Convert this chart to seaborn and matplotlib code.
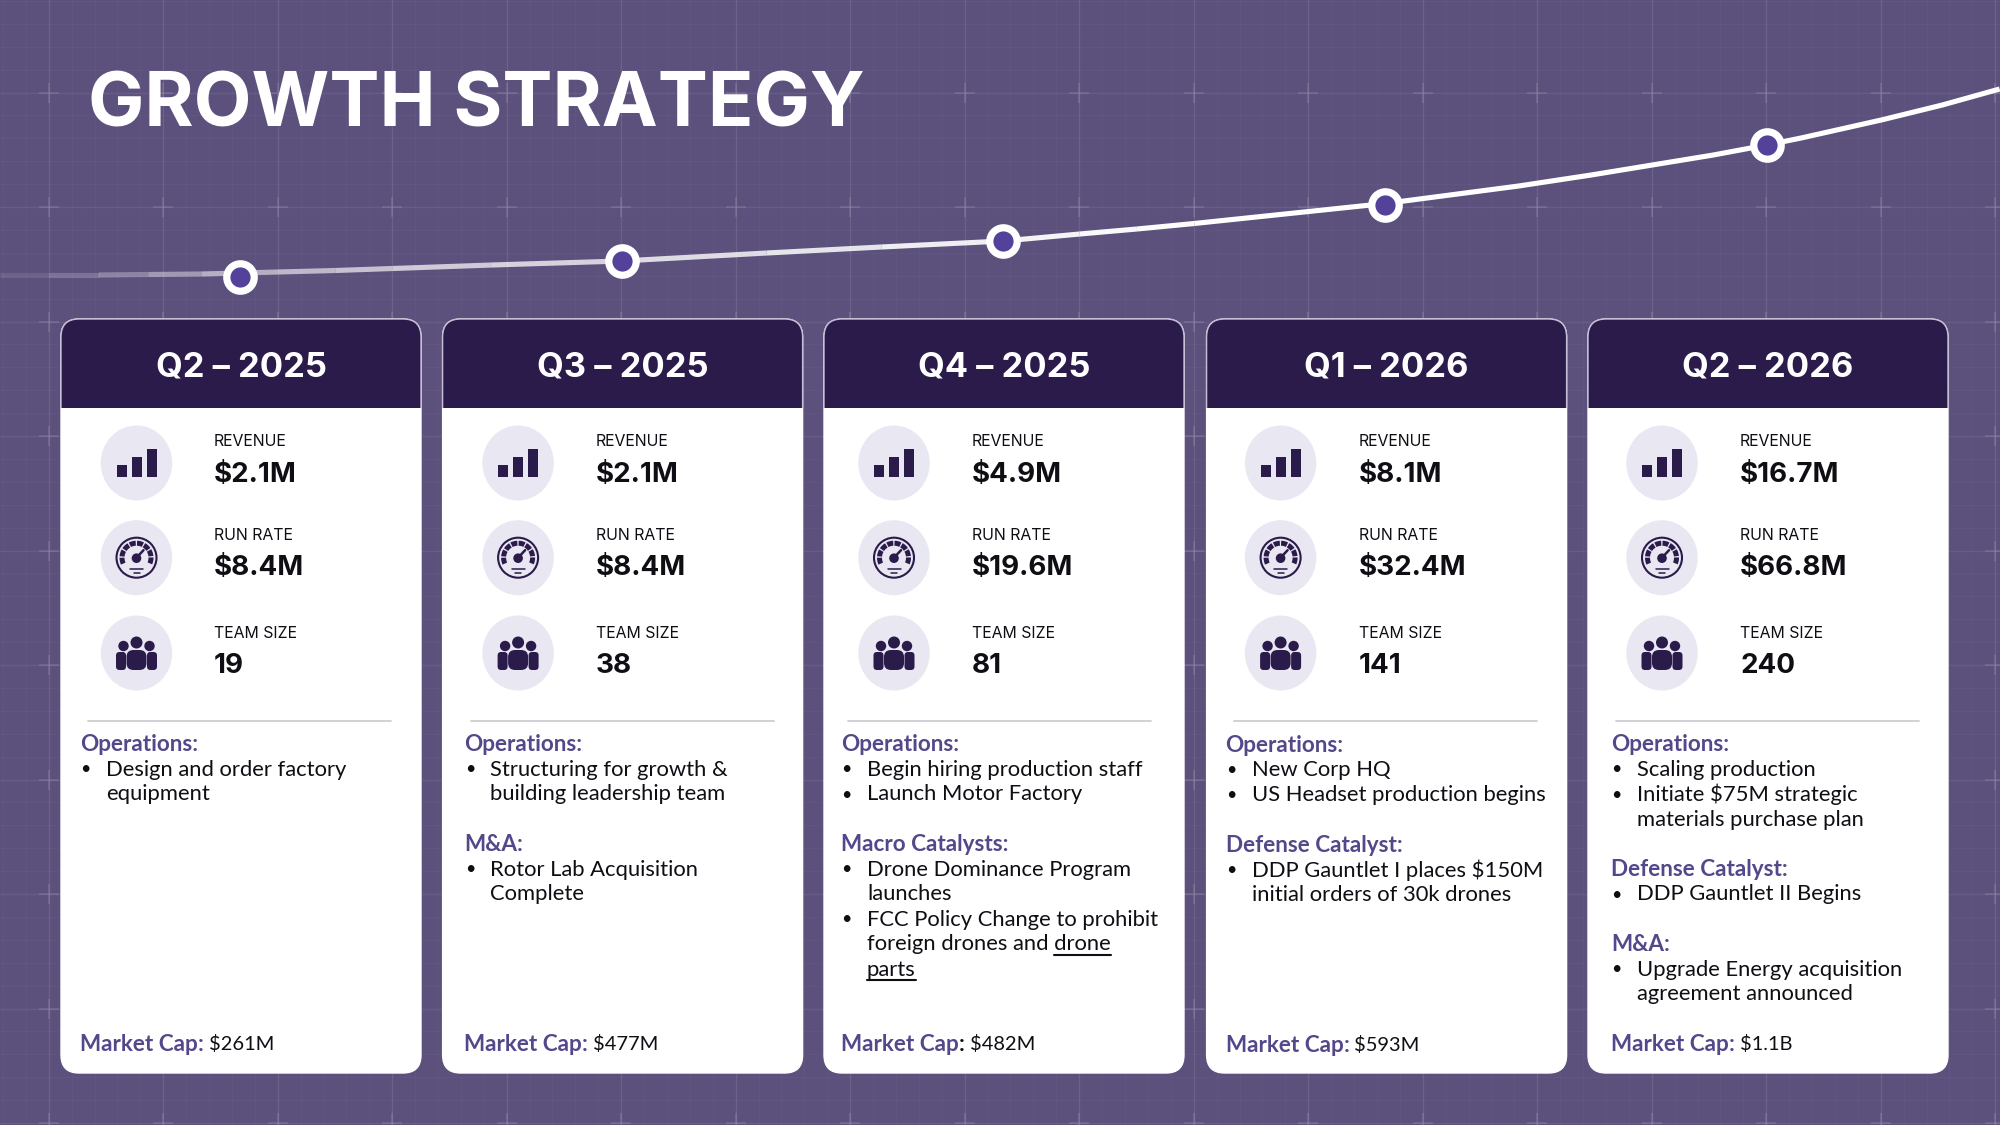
import matplotlib
matplotlib.use("Agg")
import matplotlib.pyplot as plt
from matplotlib.patches import Circle, Ellipse, Rectangle, FancyBboxPatch, Wedge
import numpy as np
import pandas as pd
import seaborn as sns

# ---------- data ----------
quarters = ["Q2 – 2025", "Q3 – 2025", "Q4 – 2025", "Q1 – 2026", "Q2 – 2026"]
revenue = ["$2.1M", "$2.1M", "$4.9M", "$8.1M", "$16.7M"]
run_rate = ["$8.4M", "$8.4M", "$19.6M", "$32.4M", "$66.8M"]
team_size = ["19", "38", "81", "141", "240"]
market_cap = ["$261M", "$477M", "$482M", "$593M", "$1.1B"]

notes_q2_25 = [("Operations:", [["Design and order factory", "equipment"]])]
notes_q3_25 = [("Operations:", [["Structuring for growth &", "building leadership team"]]),
               ("M&A:", [["Rotor Lab Acquisition", "Complete"]])]
notes_q4_25 = [("Operations:", [["Begin hiring production staff"], ["Launch Motor Factory"]]),
               ("Macro Catalysts:", [["Drone Dominance Program", "launches"],
                                     ["FCC Policy Change to prohibit", "foreign drones and drone", "parts"]])]
notes_q1_26 = [("Operations:", [["New Corp HQ"], ["US Headset production begins"]]),
               ("Defense Catalyst:", [["DDP Gauntlet I places $150M", "initial orders of 30k drones"]])]
notes_q2_26 = [("Operations:", [["Scaling production"], ["Initiate $75M strategic", "materials purchase plan"]]),
               ("Defense Catalyst:", [["DDP Gauntlet II Begins"]]),
               ("M&A:", [["Upgrade Energy acquisition", "agreement announced"]])]
all_notes = [notes_q2_25, notes_q3_25, notes_q4_25, notes_q1_26, notes_q2_26]
underlined = {"foreign drones and drone": "drone", "parts": "parts"}

# growth curve: quarter position, height index
marker_pos = [0, 1, 2, 3, 4]
marker_idx = [0, 16, 36, 72, 132]
fade_pos = [-0.63, -0.50, -0.37, -0.24, -0.10, 0.10, 0.25, 0.40, 0.66, 1.00, 1.38, 1.68, 2.00, 2.20, 2.35, 2.50]
fade_idx = [2, 2, 2, 2.5, 3, 5, 6.5, 8.5, 12, 16, 24, 30, 36, 43, 48, 53.5]
fade_alpha = [0.1, 0.2, 0.3, 0.42, 0.55, 0.6, 0.65, 0.7, 0.75, 0.8, 0.85, 0.9, 0.94, 0.97, 0.99]
solid_pos = [2.50, 2.65, 2.80, 3.00, 3.19, 3.35, 3.54, 3.70, 3.86, 4.00, 4.09, 4.30, 4.46, 4.61]
solid_idx = [53.5, 59.5, 65.5, 73.5, 83, 91, 102, 112, 122, 132, 139, 157, 172, 188]

# ---------- style ----------
BG = "#5C507C"; HEADER = "#2B1B4B"; CIRCLE = "#E9E7F2"; ACCENT = "#54478A"; INK = "#0E0E14"
DOT = "#54429A"
sns.set_theme(style="white")
BODY_FONT = ["Lato", "DejaVu Sans"]
HEAD_FONT = ["Inter", "DejaVu Sans"]
plt.rcParams["font.family"] = HEAD_FONT

fig = plt.figure(figsize=(20, 11.25), dpi=100, facecolor=BG)
ax = fig.add_axes([0, 0, 1, 1], facecolor=BG, zorder=1)
ax.set_xlim(0, 2000); ax.set_ylim(1125, 0)
for s in ax.spines.values():
    s.set_visible(False)

# background blueprint grid
MAJOR = 114.5
gx = np.arange(48.7, 2000, MAJOR); gy = np.arange(92.5, 1125, MAJOR)
ax.set_xticks(gx); ax.set_yticks(gy)
ax.set_xticks(np.arange(2.9, 2000, MAJOR / 5), minor=True)
ax.set_yticks(np.arange(0.9, 1125, MAJOR / 5), minor=True)
ax.tick_params(which="both", length=0, labelbottom=False, labelleft=False)
ax.grid(which="major", axis="x", color="white", alpha=0.10, lw=1.0)
ax.grid(which="major", axis="y", color="white", alpha=0.07, lw=1.0)
ax.grid(which="minor", color="white", alpha=0.03, lw=0.8)
ax.set_axisbelow(True)
X, Y = np.meshgrid(gx, gy)
sns.scatterplot(x=X.ravel(), y=Y.ravel(), marker="+", s=200, color="white", alpha=0.14,
                linewidth=1.1, ax=ax, legend=False, zorder=1)

# title
ax.text(88, 107, "GROWTH STRATEGY", color="white", fontsize=54, fontweight="bold",
        va="center", ha="left", family=HEAD_FONT, zorder=5)

# growth curve in its own overlay axes
cax = fig.add_axes([0, 0, 1, 1], facecolor="none", zorder=2)
cax.set_xlim(-0.6288, 4.611); cax.set_ylim(-848, 277); cax.axis("off")
for i in range(len(fade_pos) - 1):
    seg = pd.DataFrame({"q": fade_pos[i:i + 2], "v": fade_idx[i:i + 2]})
    sns.lineplot(data=seg, x="q", y="v", color="white", lw=3.7, alpha=fade_alpha[i],
                 ax=cax, legend=False, errorbar=None, solid_capstyle="butt", zorder=3)
sns.lineplot(x=solid_pos, y=solid_idx, color="white", lw=3.7, ax=cax, legend=False, errorbar=None,
             solid_capstyle="butt", solid_joinstyle="round", zorder=3)
pts = pd.DataFrame({"q": marker_pos, "v": marker_idx})
sns.scatterplot(data=pts, x="q", y="v", s=390, color=DOT, edgecolor="white", linewidth=5.2,
                ax=cax, legend=False, zorder=4)
cax.set_xlabel(""); cax.set_ylabel("")

# cards sit above the curve axes
lax = fig.add_axes([0, 0, 1, 1], facecolor="none", zorder=3)
lax.set_xlim(0, 2000); lax.set_ylim(1125, 0); lax.axis("off")
renderer = fig.canvas.get_renderer()

CARD_LEFT = [61, 442.6, 824, 1206.6, 1588]
ICON_DX = [75.5, 75.5, 70, 74, 74]
TEXT_DX = [153, 153, 148, 152, 152]
BODY_DX = [19, 21.6, 17, 19, 23]
RULE_DX = [27, 28, 24, 27, 28]
BODY_DY = [0, 0, 0, 0.8, 0]
CARD_W = 360; CARD_TOP = 319; HEAD_BOTTOM = 408; CARD_BOTTOM = 1073
LINE = 25.0
BODY_SIZE = 15.8
HEADING_SIZE = 16.2


def bars_icon(cx, cy):
    for dx, h in zip((-20, -5, 10), (12, 20, 28)):
        lax.add_patch(Rectangle((cx + dx, cy + 14 - h), 10, h, color=HEADER, lw=0))


def gauge_icon(cx, cy):
    lax.add_patch(Circle((cx, cy), 20, fill=False, ec=HEADER, lw=1.5))
    for a0 in range(168, 372, 29):
        lax.add_patch(Wedge((cx, cy), 17, a0 - 12, a0 + 12, width=5, color=HEADER, lw=0))
    lax.add_patch(Circle((cx, cy + 0.5), 4.8, color=HEADER, lw=0))
    lax.plot([cx, cx + 7], [cy, cy - 7.5], color=HEADER, lw=1.8, solid_capstyle="round")
    lax.plot([cx - 6.5, cx + 6.5], [cy + 11.5, cy + 11.5], color=HEADER, lw=1.1)
    lax.plot([cx - 3, cx + 3], [cy + 15, cy + 15], color=HEADER, lw=1.1)


def people_icon(cx, cy):
    for dx, r, hy in ((-13, 5.2, -7), (13, 5.2, -7), (0, 6, -10.5)):
        lax.add_patch(Circle((cx + dx, cy + hy), r, color=HEADER, lw=0))
    for x0 in (-20.5, 10.5):
        lax.add_patch(FancyBboxPatch((cx + x0, cy - 1), 10, 18, boxstyle="round,pad=0,rounding_size=3.5",
                                     color=HEADER, lw=0))
    lax.add_patch(FancyBboxPatch((cx - 10, cy - 3), 20, 20, boxstyle="round,pad=0,rounding_size=7",
                                 color=HEADER, lw=0))


def put(x, y, s, **kw):
    kw.setdefault("family", BODY_FONT); kw.setdefault("fontsize", BODY_SIZE)
    kw.setdefault("color", INK); kw.setdefault("va", "center"); kw.setdefault("ha", "left")
    return lax.text(x, y, s, **kw)


for i, q in enumerate(quarters):
    L = CARD_LEFT[i]
    lax.add_patch(FancyBboxPatch((L, CARD_TOP), CARD_W, CARD_BOTTOM - CARD_TOP,
                                 boxstyle="round,pad=0,rounding_size=18", fc="white", ec="white", lw=1))
    head = FancyBboxPatch((L, CARD_TOP), CARD_W, 200, boxstyle="round,pad=0,rounding_size=18",
                          fc=HEADER, ec="#C3BDD6", lw=1)
    lax.add_patch(head)
    head.set_clip_path(Rectangle((L - 2, CARD_TOP - 2), CARD_W + 4, HEAD_BOTTOM - CARD_TOP + 2,
                                 transform=lax.transData))
    put(L + CARD_W / 2, 367, q, color="white", fontsize=24.8, fontweight="bold", ha="center",
        family=HEAD_FONT)

    icx = L + ICON_DX[i]
    tx = L + TEXT_DX[i]
    rows = ((463, 442, 475, "REVENUE", revenue[i], bars_icon),
            (557.7, 535, 568, "RUN RATE", run_rate[i], gauge_icon),
            (653, 633, 666, "TEAM SIZE", team_size[i], people_icon))
    for cy, ly, vy, lab, val, icon in rows:
        lax.add_patch(Ellipse((icx, cy), 71.5, 75, color=CIRCLE, lw=0))
        icon(icx, cy)
        put(tx, ly, lab, family=HEAD_FONT, fontsize=11.4)
        put(tx, vy, val, family=HEAD_FONT, fontsize=20, fontweight="bold")

    rx = L + RULE_DX[i]
    lax.plot([rx, rx + 303], [720.5, 720.5], color="#C8C8CE", lw=1.2)

    bx = L + BODY_DX[i]
    row = 0
    y0 = 744.5 + BODY_DY[i]
    for heading, bullets in all_notes[i]:
        put(bx, y0 + row * LINE, heading, color=ACCENT, fontweight="bold", fontsize=HEADING_SIZE)
        row += 1
        for bullet in bullets:
            put(bx + 0.5, y0 + row * LINE, "•", fontsize=13)
            for text_line in bullet:
                tobj = put(bx + 26, y0 + row * LINE, text_line)
                if text_line in underlined:
                    prefix = text_line[: -len(underlined[text_line])]
                    bb = tobj.get_window_extent(renderer)
                    start = bb.x0
                    if prefix:
                        tmp = put(bx + 26, y0, prefix.replace(" ", "\u00a0"))
                        start = tmp.get_window_extent(renderer).x1
                        tmp.remove()
                    uy = y0 + row * LINE + 10
                    lax.plot([start, bb.x1], [uy, uy], color=INK, lw=1.5)
                row += 1
        row += 1

    my = 1044.3 + BODY_DY[i]
    t1 = put(bx, my, "Market Cap", color=ACCENT, fontweight="bold", fontsize=HEADING_SIZE)
    x1 = t1.get_window_extent(renderer).x1
    t2 = put(x1, my, ":", fontweight="bold", fontsize=HEADING_SIZE, color=INK if i == 2 else ACCENT)
    x2 = t2.get_window_extent(renderer).x1
    put(x2 + 5, my, market_cap[i], fontsize=14.4)

fig.savefig("out.png", dpi=100, facecolor=BG)
